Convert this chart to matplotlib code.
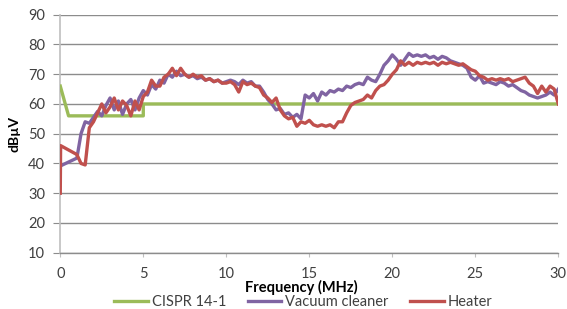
import numpy as np
import matplotlib
matplotlib.use("Agg")
import matplotlib.pyplot as plt

OUT = "out.png"

# CISPR 14-1 limit line
limit_freq = [0.0, 0.5, 5.0, 5.0, 30.0]
limit_db = [66, 56, 56, 60, 60]

# measurement grid: two leading points, then 0.25 MHz steps from 1 to 30
freq = [0.0, 0.02] + list(np.round(np.arange(1.0, 30.001, 0.25), 2))

vacuum = [39, 39.2,
          41.8, 50, 54, 53.5,
          55.5, 57.5, 56, 59.5,
          62, 58, 61, 56.5,
          60, 61.5, 58, 62,
          64.5, 63, 66.5, 65,
          68, 67, 70, 69,
          71, 69.5, 70, 69,
          69.5, 68.5, 69, 68,
          68.5, 67.5, 68, 67,
          67.5, 68, 67.5, 66.5,
          68, 67, 67.5, 66,
          66, 64, 61.5, 60,
          58, 58.5, 56.5, 57,
          55.5, 56.5, 55, 63,
          62, 63.5, 61, 64,
          63, 64.5, 64, 65,
          64.5, 66, 65.5, 66.5,
          67, 66.5, 69, 68,
          67.5, 70, 73, 74.5,
          76.5, 75, 73, 75,
          77, 76, 76.5, 76,
          76.5, 75.5, 76, 75,
          76, 75.5, 74.5, 74,
          73.5, 73, 72, 69,
          68, 69.5, 67, 67.5,
          67, 66.5, 67.5, 67,
          66, 66.5, 65.5, 64.5,
          64, 63, 62.5, 62,
          62.5, 63, 64, 63,
          65]

heater = [30, 46,
          43, 40, 39.5, 52,
          54, 57, 60, 57,
          59, 62, 58, 61,
          59.5, 56, 61, 58,
          62.5, 64, 68, 66,
          66, 69, 70, 72,
          69.5, 72, 70, 69,
          70, 69, 69.5, 68,
          68.5, 67.5, 68, 67,
          67, 67.5, 66.5, 64,
          67.5, 66.5, 67, 66,
          65.5, 63, 62, 60.5,
          62, 58, 56, 55,
          55.5, 52.5, 54, 53.5,
          54.5, 53, 52.5, 53,
          52.5, 53, 52, 54,
          54, 57, 59.5, 60.5,
          61, 61.5, 63, 62,
          64.5, 66, 66.5, 68,
          70, 71.5, 74.5, 73,
          74, 73, 74, 73.5,
          74, 73.5, 74, 73,
          74, 73.5, 74, 73.5,
          73, 73.5, 72.5, 71.5,
          71, 69.5, 69, 68,
          68.5, 68, 68.5, 68,
          68.5, 67.5, 68, 68.5,
          69, 67, 66, 63.5,
          66, 64, 66, 65,
          60]

xticks = [0, 5, 10, 15, 20, 25, 30]
yticks = [10, 20, 30, 40, 50, 60, 70, 80, 90]

plt.rcParams["font.family"] = ["Lato", "DejaVu Sans"]

fig = plt.figure(figsize=(5.67, 3.09), dpi=100)
ax = fig.add_axes([0.1063, 0.1822, 0.8784, 0.7702])

ax.plot(limit_freq, limit_db, color="#9BBB59", lw=2.4, label="CISPR 14-1", zorder=3)
ax.plot(freq, vacuum, color="#8064A2", lw=2.4, label="Vacuum cleaner", zorder=4)
ax.plot(freq, heater, color="#C0504D", lw=2.4, label="Heater", zorder=5)

ax.set_xlim(0, 30)
ax.set_ylim(10, 90)
ax.set_xticks(xticks)
ax.set_yticks(yticks)
ax.grid(axis="y", color="#8C8C8C", lw=1.0)
ax.set_axisbelow(True)

for s in ["top", "right"]:
    ax.spines[s].set_visible(False)
ax.spines["left"].set_color("#BFBFBF")
ax.spines["left"].set_linewidth(1.2)
ax.spines["bottom"].set_color("#8C8C8C")
ax.spines["bottom"].set_linewidth(1.0)
ax.tick_params(axis="y", length=5, color="#8C8C8C", labelsize=10.5, labelcolor="#404040", pad=6)
ax.tick_params(axis="x", length=3, color="#BFBFBF", labelsize=10.5, labelcolor="#404040", pad=7)

ax.set_ylabel("dBµV", fontsize=10, fontweight="bold", labelpad=5)
fig.text(301 / 567, 1 - 287 / 309, "Frequency (MHz)", ha="center", va="center",
         fontsize=10.5, fontweight="bold")

fig.legend(loc="center", bbox_to_anchor=(0.535, 1 - 302 / 309), ncol=3, frameon=False,
           fontsize=10.5, handlelength=2.3, handletextpad=0.25, columnspacing=1.5,
           labelcolor="#404040", borderaxespad=0)

fig.savefig(OUT, dpi=100, facecolor="white")
